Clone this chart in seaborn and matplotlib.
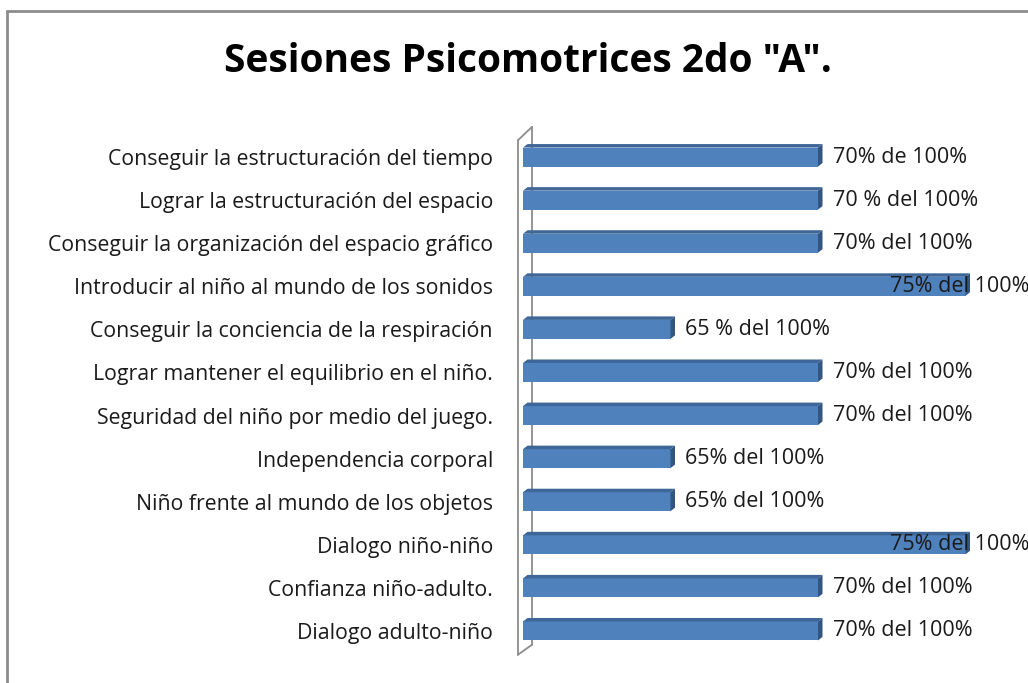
import matplotlib
matplotlib.use("Agg")
import matplotlib.pyplot as plt
import seaborn as sns
import pandas as pd
from matplotlib.patches import Polygon
from matplotlib.lines import Line2D

categories = [
    "Conseguir la estructuración del tiempo",
    "Lograr la estructuración del espacio",
    "Conseguir la organización del espacio gráfico",
    "Introducir al niño al mundo de los sonidos",
    "Conseguir la conciencia de la respiración",
    "Lograr mantener el equilibrio en el niño.",
    "Seguridad del niño por medio del juego.",
    "Independencia corporal",
    "Niño frente al mundo de los objetos",
    "Dialogo niño-niño",
    "Confianza niño-adulto.",
    "Dialogo adulto-niño",
]
values = [70, 70, 70, 75, 65, 70, 70, 65, 65, 75, 70, 70]
value_labels = [
    "70% de 100%", "70 % del 100%", "70% del 100%", "75% del 100%",
    "65 % del 100%", "70% del 100%", "70% del 100%", "65% del 100%",
    "65% del 100%", "75% del 100%", "70% del 100%", "70% del 100%",
]
title = 'Sesiones Psicomotrices 2do "A".'

sns.set_theme(style="white")
plt.rcParams["font.family"] = ["Open Sans", "DejaVu Sans"]

W, H = 1028, 683
fig = plt.figure(figsize=(W / 100, H / 100), dpi=100)
ax_left, ax_right = 523, 1028
ax_top, ax_bot = 135.5, 652.5
ax = fig.add_axes([ax_left / W, 1 - ax_bot / H, (ax_right - ax_left) / W, (ax_bot - ax_top) / H])

df = pd.DataFrame({"cat": categories, "val": values})
face = "#4F81BD"
sns.barplot(data=df, y="cat", x="val", orient="h", color=face, saturation=1,
            width=0.44, ax=ax, zorder=3, linewidth=0)

xmin = 60
ppu = 29.5  # pixels per percent
xmax = xmin + (ax_right - ax_left) / ppu
ax.set_xlim(xmin, xmax)
ax.set_ylim(len(categories) - 0.5, -0.5)

# 3D faces on the bars
dx = 4.5 / ppu
dy = 3.5 / 43.1
for p in ax.patches:
    x0 = xmin
    x1 = p.get_x() + p.get_width()
    y0 = p.get_y()              # top of bar (inverted axis)
    y1 = p.get_y() + p.get_height()
    top = Polygon([[x0, y0], [x1, y0], [x1 + dx, y0 - dy], [x0 + dx, y0 - dy]],
                  closed=True, facecolor="#3E6698", edgecolor="none", zorder=3)
    side = Polygon([[x1, y0], [x1 + dx, y0 - dy], [x1 + dx, y1 - dy], [x1, y1]],
                   closed=True, facecolor="#34557F", edgecolor="none", zorder=3)
    ax.add_patch(top)
    ax.add_patch(side)

# wall (thin 3D panel at the left)
wl = xmin - 5 / ppu
wr = xmin + 9 / ppu
wall_kw = dict(color="#8C8C8C", lw=1.3, clip_on=False, zorder=2)
ax.plot([wl, wl], [-0.39, 11.55], **wall_kw)
ax.plot([wl, wr], [-0.39, -0.70], **wall_kw)
ax.plot([wr, wr], [-0.70, 11.32], **wall_kw)
ax.plot([wl, wr], [11.55, 11.32], **wall_kw)

# value labels
label_cap = xmin + (890 - ax_left) / ppu
for i, (v, t) in enumerate(zip(values, value_labels)):
    lx = min(v + 0.5, label_cap)
    ax.text(lx, i, t, ha="left", va="center", fontsize=15.5, color="#1a1a1a",
            zorder=5, clip_on=False)

ax.set_xlabel("")
ax.set_ylabel("")
ax.set_xticks([])
ax.tick_params(axis="y", length=0, pad=21.6, labelsize=15.3, labelcolor="#1a1a1a")
for s in ax.spines.values():
    s.set_visible(False)

fig.text(528 / W, 1 - 62 / H, title, ha="center", va="center",
         fontsize=28, fontweight="bold", color="black")

# chart frame
frame_kw = dict(color="#8C8C8C", lw=2, transform=fig.transFigure)
fig.add_artist(Line2D([7 / W, 7 / W], [0, 1 - 11 / H], **frame_kw))
fig.add_artist(Line2D([7 / W, 1.0], [1 - 11 / H, 1 - 11 / H], **frame_kw))

fig.savefig("out.png", dpi=100)
